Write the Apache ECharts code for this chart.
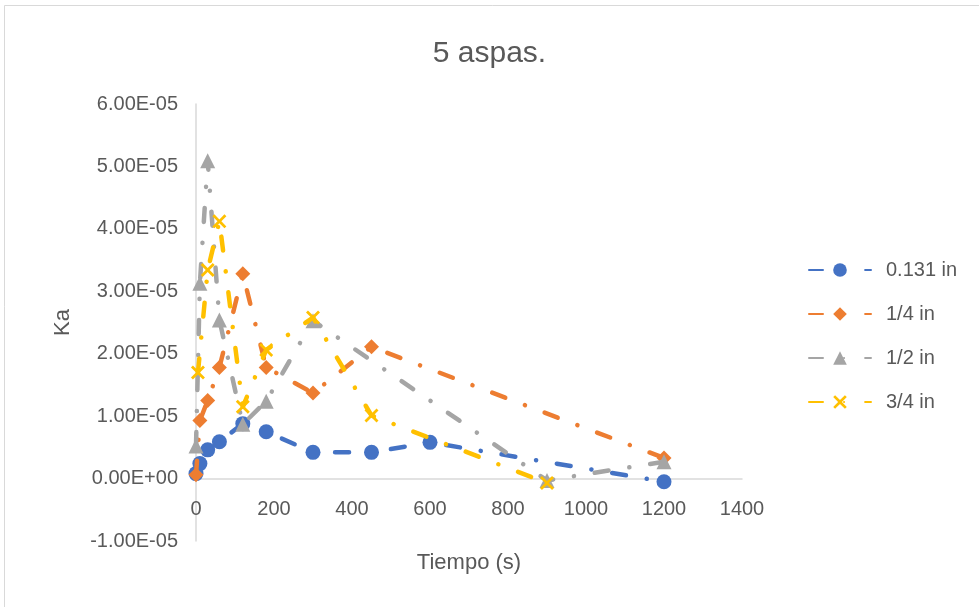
<!DOCTYPE html>
<html>
<head>
<meta charset="utf-8">
<script src="https://cdn.jsdelivr.net/npm/echarts@6/dist/echarts.min.js"></script>
<style>
  html, body { margin: 0; padding: 0; background: #fff; }
  #chart { width: 979px; height: 607px; }
</style>
</head>
<body>
<div id="chart"></div>
<script>
// Ka (x1e-5) against time for four diameters
const seriesNames = ['0.131 in', '1/4 in', '1/2 in', '3/4 in'];

const tiempo0131 = [0, 10, 30, 60, 120, 180, 300, 450, 600, 1200];
const ka0131 = [0.08, 0.24, 0.46, 0.59, 0.88, 0.75, 0.42, 0.42, 0.58, -0.05];

const tiempo14 = [0, 10, 30, 60, 120, 180, 300, 450, 1200];
const ka14 = [0.06, 0.93, 1.25, 1.78, 3.28, 1.78, 1.37, 2.11, 0.33];

const tiempo12 = [0, 10, 30, 60, 120, 180, 300, 900, 1200];
const ka12 = [0.52, 3.13, 5.09, 2.54, 0.87, 1.24, 2.53, -0.03, 0.27];

const tiempo34 = [5, 30, 60, 120, 180, 300, 450, 900];
const ka34 = [1.70, 3.34, 4.12, 1.15, 2.06, 2.58, 1.01, -0.07];

const kaScale = 1e-5;

const textColor = '#595959';
const font = 'Liberation Sans';
const colors = ['#4472C4', '#ED7D31', '#A5A5A5', '#FFC000'];
const crossPath = 'path://M1.4,0 L5,3.6 L8.6,0 L10,1.4 L6.4,5 L10,8.6 L8.6,10 L5,6.4 L1.4,10 L0,8.6 L3.6,5 L0,1.4 Z';
const symbols = ['circle', 'diamond', 'triangle', crossPath];
const symbolSizes = [15, 15, 15, 14];

function pairs(ts, vs) {
  return ts.map((t, i) => [t, vs[i] * kaScale]);
}

function sciLabel(v) {
  if (Math.abs(v) < 1e-12) return '0.00E+00';
  const parts = v.toExponential(2).split('e');
  const exp = parseInt(parts[1], 10);
  const sign = exp < 0 ? '-' : '+';
  const mag = String(Math.abs(exp)).padStart(2, '0');
  return parts[0] + 'E' + sign + mag;
}

const dataSets = [
  pairs(tiempo0131, ka0131),
  pairs(tiempo14, ka14),
  pairs(tiempo12, ka12),
  pairs(tiempo34, ka34)
];

const chart = echarts.init(document.getElementById('chart'), null, { renderer: 'canvas' });

chart.setOption({
  animation: false,
  backgroundColor: '#ffffff',
  textStyle: { fontFamily: font, color: textColor },
  graphic: [{
    type: 'rect',
    shape: { x: 4.5, y: 5.5, width: 1000, height: 1000 },
    style: { fill: 'none', stroke: '#D9D9D9', lineWidth: 1 },
    silent: true
  }],
  title: {
    text: '5 aspas.',
    left: 'center',
    top: 34,
    textStyle: { fontFamily: font, fontSize: 30, fontWeight: 'normal', color: textColor }
  },
  grid: { left: 196, right: 237, top: 104, bottom: 66, containLabel: false, outerBoundsMode: 'none' },
  legend: {
    orient: 'vertical',
    left: 808,
    top: 260,
    itemWidth: 62,
    itemHeight: 17,
    itemGap: 24,
    padding: 0,
    textStyle: { fontFamily: font, fontSize: 20, color: textColor, padding: [0, 0, 0, 10] },
    data: seriesNames
  },
  xAxis: {
    type: 'value',
    min: 0,
    max: 1400,
    interval: 200,
    name: 'Tiempo (s)',
    nameLocation: 'middle',
    nameGap: 11,
    nameTextStyle: { fontFamily: font, fontSize: 22, color: textColor },
    axisLine: { onZero: true, lineStyle: { color: '#D9D9D9', width: 1.5 } },
    axisTick: { show: false },
    // tick labels sit just under the zero line, above the -1.00E-05 level
    axisLabel: { fontFamily: font, fontSize: 20, color: textColor, margin: -42, formatter: v => String(v) },
    splitLine: { show: false }
  },
  yAxis: {
    type: 'value',
    min: -1 * kaScale,
    max: 6 * kaScale,
    interval: kaScale,
    name: 'Ka',
    nameLocation: 'middle',
    nameRotate: 90,
    nameGap: 122,
    nameTextStyle: { fontFamily: font, fontSize: 22, color: textColor },
    axisLine: { show: true, onZero: false, lineStyle: { color: '#D9D9D9', width: 1.5 } },
    axisTick: { show: false },
    axisLabel: { fontFamily: font, fontSize: 20, color: textColor, margin: 18, formatter: sciLabel },
    splitLine: { show: false }
  },
  series: seriesNames.map((name, i) => ({
    name: name,
    type: 'line',
    data: dataSets[i],
    symbol: symbols[i],
    symbolSize: symbolSizes[i],
    showAllSymbol: true,
    color: colors[i],
    itemStyle: { color: colors[i] },
    lineStyle: {
      color: colors[i],
      width: 4.5,
      type: [14, 21, 0.1, 21],
      cap: 'round',
      join: 'round'
    },
    z: 2 + i
  }))
});
</script>
</body>
</html>
